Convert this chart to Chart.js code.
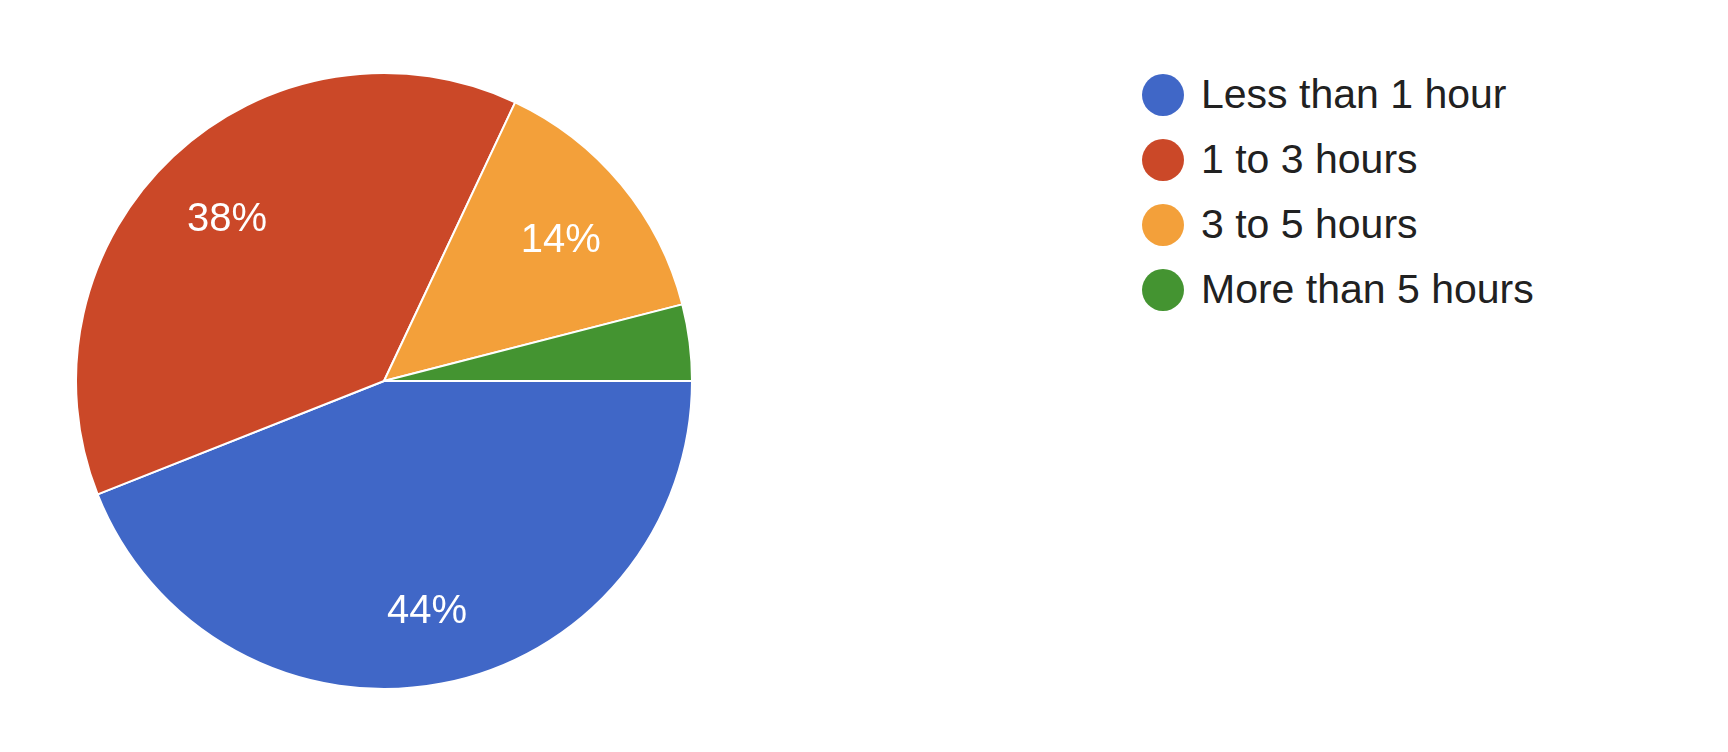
<!DOCTYPE html>
<html>
<head>
<meta charset="utf-8">
<script src="https://cdn.jsdelivr.net/npm/chart.js@4.4.1/dist/chart.umd.min.js"></script>
<style>
    body {
        margin: 0;
        width: 1728px;
        height: 752px;
        background: #ffffff;
        font-family: "Liberation Sans", Arial, sans-serif;
        position: relative;
        overflow: hidden;
    }

    #pieBox {
        position: absolute;
        left: 75px;
        top: 72px;
        width: 618px;
        height: 618px;
    }

    #legend {
        position: absolute;
        left: 1142px;
        top: 62px;
        margin: 0;
        padding: 0;
        list-style: none;
    }

    #legend li {
        height: 65px;
        display: flex;
        align-items: center;
        font-size: 41px;
        color: #212121;
    }

    #legend span.dot {
        width: 42px;
        height: 42px;
        border-radius: 50%;
        margin-right: 17px;
        flex: none;
    }
</style>
</head>
<body>
<div id="pieBox"><canvas id="pieChart"></canvas></div>
<ul id="legend"></ul>

<script>
const categories = ["Less than 1 hour", "1 to 3 hours", "3 to 5 hours", "More than 5 hours"];
const values = [44, 38, 14, 4];
const colors = ["#4067c7", "#cb4828", "#f3a03a", "#449431"];

// percent labels inside the slices, small slices get none
const sliceLabels = {
    id: "sliceLabels",
    afterDatasetsDraw(chart) {
        const ctx = chart.ctx;
        const meta = chart.getDatasetMeta(0);
        const data = chart.data.datasets[0].data;
        const total = data.reduce((a, b) => a + b, 0);

        ctx.save();
        ctx.fillStyle = "#ffffff";
        ctx.font = "40px 'Liberation Sans', Arial, sans-serif";
        ctx.textAlign = "center";
        ctx.textBaseline = "middle";

        meta.data.forEach((arc, i) => {
            const pct = Math.round((data[i] / total) * 100);
            if (pct < 5) return;

            const mid = (arc.startAngle + arc.endAngle) / 2;
            const r = arc.outerRadius * 0.745;

            ctx.fillText(pct + "%", arc.x + Math.cos(mid) * r, arc.y + Math.sin(mid) * r + 6);
        });

        ctx.restore();
    }
};

function loadLegend() {
    const list = document.getElementById("legend");

    list.innerHTML = "";

    categories.forEach((name, i) => {
        list.innerHTML += `<li><span class="dot" style="background:${colors[i]}"></span>${name}</li>`;
    });
}

document.addEventListener("DOMContentLoaded", () => {
    const ctx = document.getElementById("pieChart").getContext("2d");

    new Chart(ctx, {
        type: "pie",

        data: {
            labels: categories,

            datasets: [
                {
                    data: values,

                    backgroundColor: colors,

                    borderColor: "#ffffff",

                    borderWidth: 2
                }
            ]
        },

        options: {
            responsive: true,

            maintainAspectRatio: false,

            animation: false,

            rotation: 90,

            plugins: {
                legend: {
                    display: false
                },

                tooltip: {
                    enabled: false
                }
            }
        },

        plugins: [sliceLabels]
    });

    loadLegend();
});
</script>
</body>
</html>
